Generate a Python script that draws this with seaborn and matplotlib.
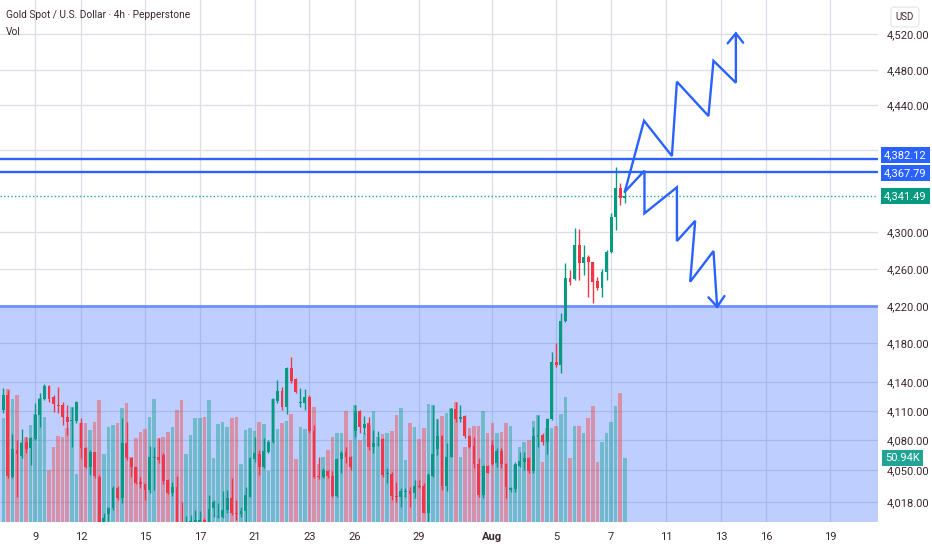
import matplotlib
matplotlib.use("Agg")
import matplotlib.pyplot as plt
import matplotlib.transforms as mtransforms
from matplotlib.patches import Rectangle
import numpy as np
import pandas as pd
import seaborn as sns

sns.set_theme(style="white")
plt.rcParams['font.family'] = ['Roboto', 'DejaVu Sans']

# ---------------- data (4h candles) ----------------
open_ = [4105.3, 4121.9, 4031.8, 4061.2, 4055.0, 4069.7, 4063.8, 4073.4, 4099.8, 4117.1,
         4131.8, 4120.0, 4110.8, 4110.5, 4098.0, 4093.2, 4093.2, 4091.4, 4063.8, 4042.9,
         4058.7, 4031.8, 3980.4, 3990.3, 3996.9, 4019.0, 4007.9, 4068.6, 4052.8, 4042.1,
         4026.3, 4023.7, 4017.1, 4052.4, 4053.9, 4055.7, 4028.2, 4014.2, 4020.8, 3982.2,
         3980.4, 3981.5, 3982.0, 3981.1, 3984.0, 3982.2, 3996.9, 3987.0, 3987.7, 3995.1,
         4008.7, 3992.1, 3990.3, 3994.3, 4009.8, 4051.3, 4056.8, 4042.9, 4059.4, 4070.4,
         4115.2, 4126.3, 4109.0, 4152.0, 4139.1, 4112.7, 4112.7, 4119.3, 4082.5, 4032.9,
         4031.1, 4038.1, 4032.6, 4010.5, 4050.9, 4058.7, 4053.9, 4082.5, 4104.2, 4085.1,
         4090.6, 4064.9, 4066.7, 4073.0, 4034.4, 4034.8, 4010.9, 4009.8, 4014.9, 4016.0,
         4013.4, 4021.5, 4021.5, 3992.1, 4032.6, 4062.0, 4076.7, 4021.9, 4053.1, 4106.4,
         4095.4, 4098.7, 4077.0, 4065.6, 4045.4, 4011.6, 4043.6, 4066.7, 4046.5, 4060.5,
         4045.8, 4017.1, 4017.9, 4044.0, 4048.4, 4052.0, 4038.4, 4075.9, 4077.8, 4070.4,
         4095.0, 4157.9, 4155.0, 4203.8, 4250.5, 4249.4, 4287.2, 4267.8, 4273.6, 4268.1,
         4247.5, 4239.5, 4257.8, 4279.9, 4317.8, 4350.5, 4339.5]
high_ = [4129.2, 4127.4, 4078.9, 4072.3, 4084.0, 4075.9, 4075.9, 4112.7, 4123.7, 4134.0,
         4132.5, 4121.9, 4131.1, 4114.5, 4110.8, 4109.0, 4115.2, 4096.1, 4064.9, 4061.2,
         4059.4, 4033.7, 3991.4, 3998.8, 4021.9, 4021.5, 4096.1, 4092.5, 4053.9, 4042.9,
         4031.8, 4024.5, 4065.6, 4064.9, 4074.1, 4057.5, 4028.9, 4026.3, 4032.6, 4004.3,
         3988.0, 3990.0, 3995.1, 3994.3, 3985.9, 4011.6, 4006.1, 4002.4, 4016.0, 4017.1,
         4030.0, 4006.1, 3998.8, 4020.8, 4053.9, 4075.9, 4061.2, 4074.1, 4072.3, 4118.2,
         4138.4, 4131.1, 4153.1, 4163.4, 4140.2, 4129.2, 4128.1, 4121.9, 4088.8, 4053.9,
         4041.0, 4039.2, 4038.1, 4052.0, 4060.5, 4064.9, 4054.6, 4110.8, 4105.3, 4098.7,
         4098.0, 4083.3, 4082.5, 4074.1, 4041.0, 4037.3, 4026.3, 4019.0, 4019.0, 4020.8,
         4028.2, 4028.2, 4024.5, 4035.5, 4110.8, 4095.0, 4077.8, 4068.6, 4107.2, 4114.5,
         4110.8, 4099.8, 4077.8, 4075.9, 4052.0, 4044.7, 4044.7, 4072.3, 4063.1, 4063.1,
         4046.5, 4020.8, 4048.4, 4059.4, 4059.4, 4053.9, 4087.0, 4099.8, 4079.6, 4096.1,
         4169.6, 4178.8, 4211.9, 4267.0, 4259.7, 4305.6, 4304.5, 4287.2, 4276.2, 4268.9,
         4252.3, 4260.4, 4281.7, 4322.2, 4373.6, 4355.3, 4351.6]
low_ = [4101.7, 4030.0, 4030.0, 4009.8, 4052.0, 4057.5, 4044.7, 4072.3, 4087.0, 4116.3,
        4114.5, 4103.5, 4101.7, 4088.8, 4077.8, 4064.9, 4090.6, 4052.0, 4041.0, 4033.7,
        4030.0, 3979.3, 3979.6, 3981.1, 3995.1, 4006.1, 4002.4, 4050.2, 4031.8, 4023.7,
        4019.0, 4006.1, 4014.2, 4017.1, 4046.5, 4023.7, 4012.7, 4010.5, 3978.5, 3979.3,
        3977.0, 3978.0, 3978.0, 3980.4, 3980.4, 3980.4, 3987.7, 3985.9, 3985.9, 3991.4,
        3989.6, 3984.1, 3987.7, 3982.2, 4009.0, 4048.4, 4033.7, 4041.0, 4057.5, 4068.6,
        4112.7, 4105.3, 4100.9, 4134.7, 4123.7, 4109.0, 4105.3, 4079.6, 4030.0, 4028.9,
        4030.0, 4030.0, 4009.8, 4009.8, 4035.5, 4046.5, 4039.2, 4075.9, 4079.6, 4078.9,
        4061.2, 4057.5, 4065.6, 4031.8, 4024.5, 4006.1, 4004.3, 3998.8, 4009.8, 3998.8,
        4007.9, 4019.0, 3991.4, 3981.1, 4031.8, 4055.7, 4017.1, 4016.4, 4053.1, 4092.5,
        4092.5, 4074.1, 4063.8, 4041.0, 4009.8, 4007.9, 4035.5, 4044.7, 4042.8, 4041.0,
        4007.9, 4015.3, 4015.3, 4042.8, 4039.2, 4036.2, 4035.5, 4064.9, 4066.7, 4056.8,
        4094.3, 4153.1, 4146.5, 4202.7, 4243.1, 4248.6, 4248.6, 4254.2, 4230.3, 4223.7,
        4237.6, 4230.3, 4248.6, 4278.1, 4303.8, 4331.4, 4334.0]
close_ = [4121.9, 4032.6, 4062.0, 4056.4, 4069.3, 4062.3, 4074.1, 4099.8, 4117.1, 4131.8,
          4117.8, 4111.6, 4110.1, 4098.0, 4092.5, 4094.3, 4113.8, 4063.1, 4042.1, 4058.7,
          4032.6, 3981.1, 3986.6, 3996.9, 4019.0, 4007.9, 4068.6, 4052.0, 4042.9, 4025.2,
          4023.4, 4017.1, 4053.1, 4053.9, 4050.2, 4027.0, 4014.2, 4020.8, 3981.1, 3980.4,
          3982.0, 3982.6, 3984.5, 3983.7, 3982.2, 3995.8, 4003.5, 3988.5, 3995.1, 4008.7,
          3991.4, 3991.0, 3994.0, 4011.6, 4052.0, 4057.5, 4042.9, 4060.5, 4069.7, 4117.1,
          4126.3, 4109.0, 4152.0, 4137.7, 4124.8, 4113.8, 4119.3, 4082.5, 4031.8, 4031.1,
          4039.2, 4032.6, 4010.5, 4050.9, 4058.3, 4053.1, 4042.9, 4104.2, 4086.2, 4089.9,
          4064.2, 4068.6, 4067.5, 4033.7, 4035.5, 4010.5, 4009.8, 4016.0, 4015.7, 4012.3,
          4021.5, 4020.8, 3992.1, 4033.7, 4056.8, 4076.7, 4021.9, 4053.9, 4106.4, 4095.4,
          4097.2, 4076.7, 4064.9, 4045.4, 4011.6, 4043.6, 4036.2, 4045.8, 4060.5, 4045.8,
          4020.1, 4018.9, 4045.4, 4049.1, 4052.0, 4038.4, 4077.0, 4077.8, 4069.7, 4095.0,
          4157.9, 4155.0, 4203.8, 4250.5, 4246.8, 4287.2, 4267.8, 4273.6, 4268.1, 4246.8,
          4240.2, 4257.8, 4279.9, 4317.7, 4350.5, 4339.5, 4341.49]
volume_k = [83.0, 105.9, 97.9, 101.1, 63.9, 67.9, 77.2, 85.7, 98.4, 83.8,
            41.4, 60.0, 68.7, 67.9, 74.6, 91.8, 37.9, 78.5, 78.5, 73.2,
            79.9, 97.1, 54.1, 75.9, 77.2, 78.5, 91.0, 94.4, 52.0, 66.6,
            71.9, 74.0, 83.8, 97.9, 66.6, 67.9, 71.4, 75.9, 89.1, 97.1,
            54.1, 69.2, 82.5, 83.0, 83.8, 97.1, 51.2, 77.7, 79.3, 75.9,
            82.5, 83.3, 45.9, 73.2, 75.1, 72.4, 79.3, 77.7, 40.9, 97.9,
            74.0, 78.5, 80.4, 86.0, 49.9, 75.6, 74.0, 90.5, 91.8, 45.9,
            52.0, 57.3, 67.9, 70.6, 71.1, 88.6, 65.0, 93.1, 65.0, 70.6,
            77.2, 88.6, 67.9, 69.8, 70.6, 72.4, 85.2, 90.5, 49.3, 78.5,
            75.9, 66.1, 75.1, 93.9, 93.1, 81.7, 84.6, 87.0, 90.5, 95.8,
            52.0, 60.0, 75.1, 76.4, 76.4, 88.3, 70.6, 78.5, 70.6, 71.4,
            78.5, 76.4, 45.4, 60.0, 63.9, 65.3, 80.4, 85.2, 47.5, 74.6,
            75.1, 76.4, 85.7, 99.8, 51.2, 76.4, 76.4, 71.1, 83.0, 92.3,
            48.0, 63.4, 71.1, 79.3, 92.3, 102.9, 50.94]

x_tick_pos = [7, 17, 31, 43, 55, 67, 77, 91, 107, 121, 133, 145, 157, 167, 181]
x_tick_labels = ['9', '12', '15', '17', '21', '23', '26', '29', 'Aug', '5', '7', '11', '13', '16', '19']
y_tick_pos = [4519.9, 4480.2, 4441.6, 4392.0, 4301.9, 4260.8, 4220.0, 4179.2,
              4136.5, 4104.2, 4072.3, 4039.2, 4003.9]
y_tick_labels = ['4,520.00', '4,480.00', '4,440.00', '', '4,300.00', '4,260.00', '4,220.00',
                 '4,180.00', '4,140.00', '4,110.00', '4,080.00', '4,050.00', '4,018.00']

level_hi = 4382.12
level_lo = 4367.79
last_price = 4341.49
zone_top = 4220.0

# projected paths drawn on the chart (candle index, price)
up_path_x = [136.0, 140.2, 146.3, 147.4, 154.3, 155.4, 160.3, 160.3]
up_path_y = [4346.0, 4424.3, 4385.4, 4467.3, 4429.5, 4490.4, 4466.2, 4520.6]
up_head_x = [158.5, 160.3, 161.9]
up_head_y = [4509.6, 4520.6, 4510.3]
down_path_x = [136.0, 140.3, 140.3, 147.4, 147.4, 151.4, 150.3, 155.4, 156.2]
down_path_y = [4346.0, 4369.2, 4322.2, 4350.9, 4291.7, 4314.0, 4246.8, 4280.6, 4219.2]
down_head_x = [154.3, 156.2, 157.8]
down_head_y = [4229.6, 4219.2, 4231.0]

title_text = 'Gold Spot / U.S. Dollar · 4h · Pepperstone'

# ---------------- styling ----------------
GREEN = '#089981'
RED = '#f23645'
VOL_UP = '#26a69a'
VOL_DN = '#ef5350'
BLUE = '#2962ff'
GRID = '#dcdee6'
TXT = '#3a2530'

o = np.array(open_); h = np.array(high_); l = np.array(low_); c = np.array(close_)
n = len(c)
idx = np.arange(n)
up = c >= o
col = np.where(up, GREEN, RED)

fig = plt.figure(figsize=(9.32, 5.5), dpi=100)
fig.patch.set_facecolor('white')
rect = [0, 28 / 550, 878 / 932, 522 / 550]
ax_vol = fig.add_axes(rect)
ax = fig.add_axes(rect, sharex=ax_vol)
ax.set_zorder(3)
ax.patch.set_visible(False)
ax_vol.set_facecolor('white')

xlim = (-0.72, 191.4)
ylim = (3981.9, 4557.4)
vol_top = 415.5

# grid + zone on the lower layer (price coordinates via the price axis)
hy = mtransforms.blended_transform_factory(ax_vol.transAxes, ax.transData)
for xp in x_tick_pos:
    ax_vol.axvline(xp, color=GRID, lw=0.9, zorder=0)
for yp in y_tick_pos:
    ax_vol.plot([0, 1], [yp, yp], transform=hy, color=GRID, lw=0.9, zorder=0)
ax_vol.add_patch(Rectangle((0, ylim[0] - 40), 1, zone_top - (ylim[0] - 40), transform=hy,
                           facecolor=BLUE, alpha=0.3, edgecolor='none', zorder=1))
ax_vol.plot([0, 1], [zone_top, zone_top], transform=hy, color='#6f8ffb', lw=2.0, zorder=1.5)

# volume with seaborn
vdf = pd.DataFrame({'idx': idx, 'vol': volume_k, 'dir': np.where(up, 'up', 'down')})
sns.barplot(data=vdf, x='idx', y='vol', hue='dir', palette={'up': VOL_UP, 'down': VOL_DN},
            native_scale=True, dodge=False, width=0.78, alpha=0.5, saturation=1,
            legend=False, ax=ax_vol, zorder=2, linewidth=0)
ax_vol.set_ylim(0, vol_top)
ax_vol.set_xlabel(''); ax_vol.set_ylabel('')
ax_vol.set_yticks([])
ax_vol.tick_params(axis='x', labelbottom=False, length=0)
for s in ax_vol.spines.values():
    s.set_visible(False)

# candles
ax.vlines(idx, l, h, colors=col, lw=1.0, zorder=3)
ax.bar(idx, np.maximum(np.abs(c - o), 0.9), bottom=np.minimum(o, c), width=0.62,
       color=col, linewidth=0, zorder=4)

# levels
ax.axhline(level_hi, color=BLUE, lw=1.7, zorder=5)
ax.axhline(level_lo, color=BLUE, lw=1.7, zorder=5)
ax.axhline(last_price, color=VOL_UP, lw=1.0, ls=(0, (1, 1.6)), zorder=2)

# scenario paths
for px, py in [(up_path_x, up_path_y), (up_head_x, up_head_y),
               (down_path_x, down_path_y), (down_head_x, down_head_y)]:
    ax.plot(px, py, color=BLUE, lw=1.7, zorder=6, solid_joinstyle='miter')

ax.set_xlim(*xlim)
ax.set_ylim(*ylim)
ax.yaxis.tick_right()
ax.set_yticks(y_tick_pos)
ax.set_yticklabels(y_tick_labels)
ax.set_xticks(x_tick_pos)
ax.set_xticklabels(x_tick_labels)
for lab in ax.get_xticklabels():
    if lab.get_text() == 'Aug':
        lab.set_fontweight('bold')
ax.tick_params(axis='y', length=0, pad=6, labelsize=8, labelcolor=TXT)
ax.tick_params(axis='x', length=0, pad=7, labelsize=8, labelcolor=TXT)
for s in ax.spines.values():
    s.set_visible(False)

# right-side value tags
tr = mtransforms.blended_transform_factory(ax.transAxes, ax.transData)
box_kw = dict(xycoords=tr, textcoords='offset pixels', va='center', ha='left',
              color='white', fontsize=8, annotation_clip=False, zorder=10)
ax.annotate(f'{level_hi:,.2f}', xy=(1, level_hi), xytext=(6, 4),
            bbox=dict(boxstyle='square,pad=0.3', fc=BLUE, ec='none'), **box_kw)
ax.annotate(f'{level_lo:,.2f}', xy=(1, level_lo), xytext=(6, -1),
            bbox=dict(boxstyle='square,pad=0.3', fc=BLUE, ec='none'), **box_kw)
ax.annotate(f'{last_price:,.2f}', xy=(1, last_price), xytext=(6, 0),
            bbox=dict(boxstyle='square,pad=0.3', fc=GREEN, ec='none'), **box_kw)
trv = mtransforms.blended_transform_factory(ax_vol.transAxes, ax_vol.transData)
ax_vol.annotate(f'{volume_k[-1]:.2f}K', xy=(1, volume_k[-1]), xycoords=trv,
                xytext=(7, 0), textcoords='offset pixels', va='center', ha='left',
                color='white', fontsize=8, annotation_clip=False,
                bbox=dict(boxstyle='square,pad=0.3', fc='#22a393', ec='none'))

fig.text(905 / 932, 1 - 17 / 550, 'USD', ha='center', va='center', fontsize=7, color=TXT,
         bbox=dict(boxstyle='round,pad=0.5,rounding_size=0.3', fc='white', ec='#e3e5ec', lw=0.8))
fig.text(6 / 932, 1 - 15 / 550, title_text, ha='left', va='center', fontsize=7.3, color=TXT)
fig.text(6 / 932, 1 - 32 / 550, 'Vol', ha='left', va='center', fontsize=7.3, color=TXT)

fig.savefig('out.png', dpi=100, facecolor='white')
